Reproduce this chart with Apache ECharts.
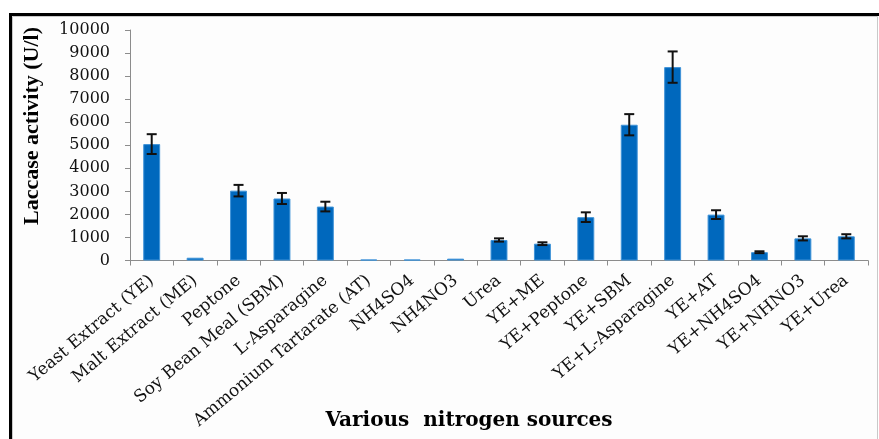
<!DOCTYPE html>
<html>
<head>
<meta charset="utf-8">
<script src="https://cdn.jsdelivr.net/npm/echarts@6/dist/echarts.min.js"></script>
<style>
  html, body { margin: 0; padding: 0; background: #ffffff; }
  #chart { width: 879px; height: 439px; }
</style>
</head>
<body>
<div id="chart"></div>
<script>
// Nitrogen sources tested
const categories = [
  'Yeast Extract (YE)', 'Malt Extract (ME)', 'Peptone', 'Soy Bean Meal (SBM)',
  'L-Asparagine', 'Ammonium Tartarate (AT)', 'NH4SO4', 'NH4NO3', 'Urea',
  'YE+ME', 'YE+Peptone', 'YE+SBM', 'YE+L-Asparagine', 'YE+AT',
  'YE+NH4SO4', 'YE+NHNO3', 'YE+Urea'
];
// Mean laccase activity (U/l)
const activity = [5050, 120, 3030, 2690, 2340, 40, 40, 80, 890, 730, 1880, 5890, 8390, 1990, 360, 960, 1050];
// Standard deviation for each mean (0 = no bar drawn)
const deviation = [430, 0, 250, 240, 210, 0, 0, 0, 70, 60, 210, 460, 680, 190, 40, 90, 90];
// Value axis ticks
const yMin = 0, yMax = 10000, yStep = 1000;

const yTitle = 'Laccase activity (U/l)';
const xTitle = 'Various  nitrogen sources';

const serif = '"DejaVu Serif", "Liberation Serif", serif';
const times = '"Liberation Serif", "Times New Roman", serif';

const errorData = activity.map((v, i) => [i, v - deviation[i], v + deviation[i], deviation[i]]);

const chart = echarts.init(document.getElementById('chart'), null, { renderer: 'canvas' });

chart.setOption({
  animation: false,
  backgroundColor: '#ffffff',
  graphic: [
    // panel background and thin inner frame
    { type: 'rect', z: -10, silent: true,
      shape: { x: 12.5, y: 16.5, width: 865, height: 430 },
      style: { fill: '#fdfdfd', stroke: '#c9c9c9', lineWidth: 1 } },
    // heavy top and left rules
    { type: 'rect', z: -5, silent: true,
      shape: { x: 9, y: 13, width: 870, height: 3 }, style: { fill: '#000' } },
    { type: 'rect', z: -5, silent: true,
      shape: { x: 9, y: 13, width: 3, height: 426 }, style: { fill: '#000' } },
    // axis titles
    { type: 'text', left: 21, top: 27, silent: true,
      rotation: Math.PI / 2, originX: 0, originY: 0,
      style: { text: yTitle, font: 'bold 22px ' + times, fill: '#000',
               x: 0, y: 0 } },
    { type: 'text', silent: true,
      style: { text: xTitle, x: 469, y: 421, textAlign: 'center', textVerticalAlign: 'middle',
               font: 'bold 20px ' + serif, fill: '#000' } }
  ],
  grid: { left: 130, right: 11, top: 30, bottom: 178.5, containLabel: false },
  xAxis: {
    type: 'category',
    data: categories,
    boundaryGap: true,
    axisLine: { lineStyle: { color: '#8c8c8c', width: 1 } },
    axisTick: { show: true, length: 5, alignWithLabel: false, lineStyle: { color: '#8c8c8c' } },
    axisLabel: { rotate: 40, interval: 0, margin: 18, color: '#111',
                 fontFamily: serif, fontSize: 17 },
    splitLine: { show: false }
  },
  yAxis: {
    type: 'value',
    min: yMin, max: yMax, interval: yStep,
    axisLine: { show: true, lineStyle: { color: '#8c8c8c', width: 1 } },
    axisTick: { show: true, length: 5, lineStyle: { color: '#8c8c8c' } },
    axisLabel: { margin: 20, color: '#111', fontFamily: serif, fontSize: 16,
                 formatter: (v) => String(v) },
    splitLine: { show: false }
  },
  series: [
    {
      type: 'bar',
      data: activity,
      barWidth: '39%',
      itemStyle: { color: '#0068bd', borderColor: '#3f93d8', borderWidth: 1 }
    },
    {
      type: 'custom',
      data: errorData,
      z: 5,
      renderItem: function (params, api) {
        if (api.value(3) <= 0) return null;
        const lo = api.coord([api.value(0), api.value(1)]);
        const hi = api.coord([api.value(0), api.value(2)]);
        const half = 5;
        const st = { stroke: '#111', lineWidth: 2 };
        return {
          type: 'group',
          children: [
            { type: 'line', shape: { x1: hi[0], y1: hi[1], x2: lo[0], y2: lo[1] }, style: st },
            { type: 'line', shape: { x1: hi[0] - half, y1: hi[1], x2: hi[0] + half, y2: hi[1] }, style: st },
            { type: 'line', shape: { x1: lo[0] - half, y1: lo[1], x2: lo[0] + half, y2: lo[1] }, style: st }
          ]
        };
      }
    }
  ]
});
</script>
</body>
</html>
